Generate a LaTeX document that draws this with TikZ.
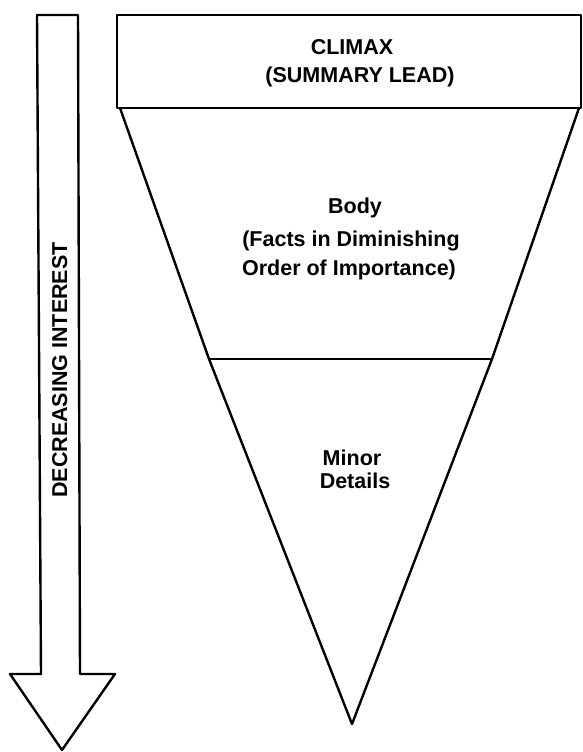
\documentclass[tikz,border=0pt]{standalone}
\usepackage{fontspec}
\setmainfont{Liberation Sans}
\begin{document}
\begin{tikzpicture}[x=1pt,y=-1pt,
  outline/.style={draw=black,line width=2.4pt,line join=round},
  label/.style={font=\fontsize{21.5}{26}\selectfont\bfseries,inner sep=0pt,anchor=base}]
\useasboundingbox (0,0) rectangle (582,752);
% arrow
\draw[outline] (37,15) -- (78,15) -- (80,674) -- (115,674) -- (62,750) -- (10,674) -- (41,674) -- cycle;
\node[label,rotate=90] (interest) at (67,370) {DECREASING INTEREST};
% climax box
\draw[outline] (117,15) rectangle (581,108);
\node[label] (climax) at (352,55) {CLIMAX};
\node[label] (lead) at (360,82) {(SUMMARY LEAD)};
% triangle
\draw[outline] (120,108) -- (209,359) -- (352,724) -- (492,359) -- (579,108);
\draw[outline] (209,359) -- (492,359);
\node[label] (body) at (355,213) {Body};
\node[label] (facts) at (351,246) {(Facts in Diminishing};
\node[label] (order) at (349,275) {Order of Importance)};
\node[label] (minor) at (352,465) {Minor};
\node[label] (details) at (355,488) {Details};
\end{tikzpicture}
\end{document}
